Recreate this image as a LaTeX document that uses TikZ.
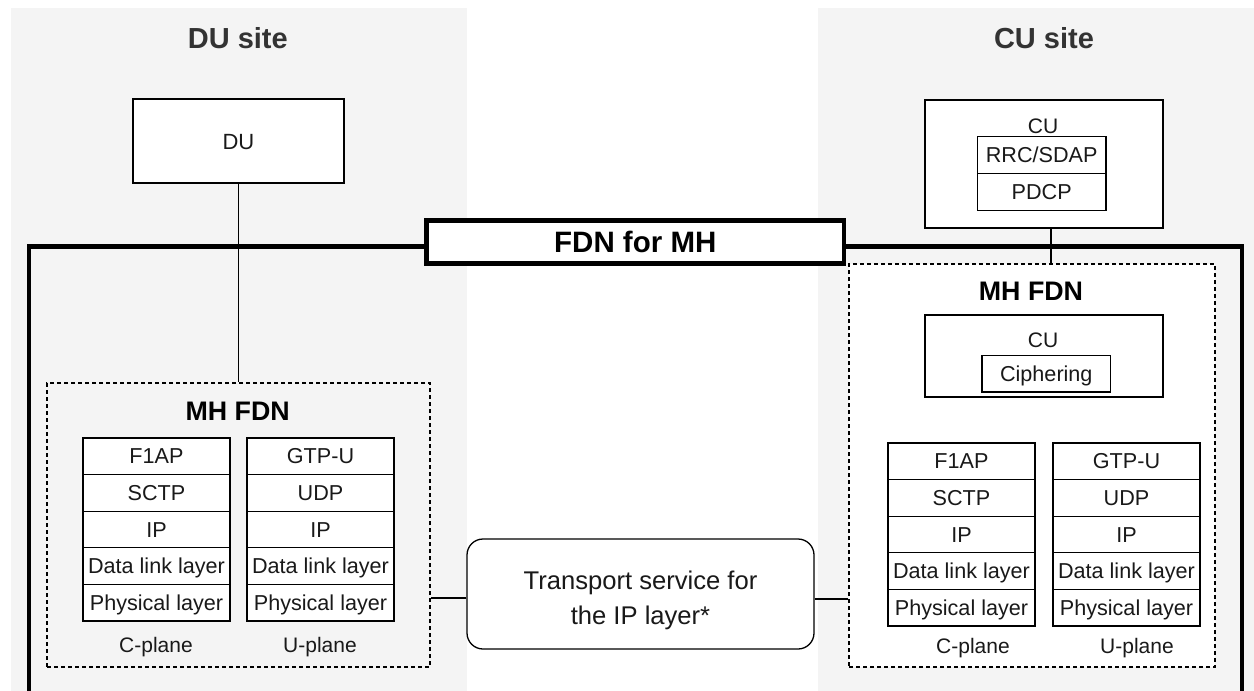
\documentclass[tikz,border=0pt]{standalone}
\usepackage{fontspec}
\setmainfont{Liberation Sans}
\usetikzlibrary{calc}
\definecolor{sitegray}{RGB}{244,244,244}
\definecolor{titlegray}{RGB}{51,51,51}
\definecolor{ink}{RGB}{25,25,25}
\newcommand{\myfs}[1]{\fontsize{#1}{#1}\selectfont}
\begin{document}
\begin{tikzpicture}[x=1pt,y=-1pt,
  box/.style={draw=black, line width=1.3pt, fill=white, inner sep=0pt},
  cell/.style={box, minimum width=147pt, minimum height=36.6pt, font=\myfs{21.6}, text height=15.2pt, text depth=0pt, text=ink},
  cucell/.style={box, minimum width=128.7pt, minimum height=37pt, font=\myfs{21.6}, text height=15.2pt, text depth=0pt, text=ink},
  lbl/.style={font=\myfs{21}, text height=15pt, text depth=0pt, inner sep=0pt, text=ink},
  mhbox/.style={draw=black, dash pattern=on 4pt off 3pt, line width=1.3pt, inner sep=0pt},
  sitetitle/.style={font=\bfseries\myfs{29}, text=titlegray, text height=20.8pt, text depth=0pt, inner sep=0pt},
  mhtitle/.style={font=\bfseries\myfs{26.8}, text=black, text height=19.2pt, text depth=0pt, inner sep=0pt},
  link/.style={draw=black, line width=1.3pt}
]
\useasboundingbox (0,0) rectangle (1254,691);
% site backgrounds
\fill[sitegray] (11,8) rectangle (467,691);
\fill[sitegray] (818,8) rectangle (1254,691);
\node[sitetitle] (dusite) at (237.8,38.3) {DU site};
\node[sitetitle] (cusite) at (1044,38.3) {CU site};

% thick FDN frame
\draw[line width=4.3pt] (29,700) -- (29,246.5) -- (1242,246.5) -- (1242,700);

% DU box
\node[box, minimum width=211pt, minimum height=84pt, font=\myfs{22}, text height=16pt, text depth=0pt, text=ink] (du) at (238.5,141) {DU};

% CU top box
\node[box, minimum width=238pt, minimum height=128pt] (cut) at (1044,164) {};
\node[lbl] (cutl) at (1043,125.5) {CU};
\node[cucell] (rrc) at (1041.7,154.7) {RRC/SDAP};
\node[cucell] (pdcp) at (1041.7,191.7) {PDCP};

% left MH FDN
\node[mhbox, minimum width=383pt, minimum height=284pt] (lmh) at (238.5,525) {};
\node[mhtitle] (lmht) at (237.7,410.8) {MH FDN};

% right MH FDN
\node[mhbox, fill=white, minimum width=366pt, minimum height=403pt] (rmh) at (1032,465.5) {};
\node[mhtitle] (rmht) at (1031,291) {MH FDN};

% connectors from DU / CU
\draw[link] (du.south) -- (lmh.north);
\draw[link] ([xshift=7pt]cut.south) -- ([xshift=7pt]cut.south |- rmh.north);

% FDN label box
\node[draw=black, line width=4.5pt, fill=white, minimum width=417.5pt, minimum height=43pt, inner sep=0pt, font=\bfseries\myfs{29.5}, text height=21pt, text depth=0pt] (fdn) at (635.3,242) {FDN for MH};

% inner CU in right MH FDN
\node[box, minimum width=238pt, minimum height=82pt] (cui) at (1044,356) {};
\node[lbl] (cuil) at (1043,340) {CU};
\node[box, minimum width=128.7pt, minimum height=36.3pt, font=\myfs{21.6}, text height=15.2pt, text depth=0pt, text=ink] (ciph) at (1046.3,373.8) {Ciphering};

% left stacks
\node[cell] (lc1) at (156.5,456.3) {F1AP};
\node[cell] (lc2) at (156.5,492.9) {SCTP};
\node[cell] (lc3) at (156.5,529.5) {IP};
\node[cell] (lc4) at (156.5,566.1) {Data link layer};
\node[cell] (lc5) at (156.5,602.7) {Physical layer};
\node[cell] (lu1) at (320.5,456.3) {GTP-U};
\node[cell] (lu2) at (320.5,492.9) {UDP};
\node[cell] (lu3) at (320.5,529.5) {IP};
\node[cell] (lu4) at (320.5,566.1) {Data link layer};
\node[cell] (lu5) at (320.5,602.7) {Physical layer};
\node[lbl] (lcl) at (156,645) {C-plane};
\node[lbl] (lul) at (320,645) {U-plane};

% right stacks
\node[cell] (rc1) at (961.5,461.3) {F1AP};
\node[cell] (rc2) at (961.5,497.9) {SCTP};
\node[cell] (rc3) at (961.5,534.5) {IP};
\node[cell] (rc4) at (961.5,571.1) {Data link layer};
\node[cell] (rc5) at (961.5,607.7) {Physical layer};
\node[cell] (ru1) at (1126.5,461.3) {GTP-U};
\node[cell] (ru2) at (1126.5,497.9) {UDP};
\node[cell] (ru3) at (1126.5,534.5) {IP};
\node[cell] (ru4) at (1126.5,571.1) {Data link layer};
\node[cell] (ru5) at (1126.5,607.7) {Physical layer};
\node[lbl] (rcl) at (973,646) {C-plane};
\node[lbl] (rul) at (1137,646) {U-plane};

% transport service
\node[box, rounded corners=16pt, minimum width=347pt, minimum height=110pt] (ts) at (640.5,594) {};
\node[inner sep=0pt, align=center, font=\fontsize{25.6}{35}\selectfont, text=ink] (tst) at (640.5,600.7) {Transport service for\\the IP layer*};

\draw[link] ([yshift=-4pt]ts.west) -- ([yshift=-4pt]ts.west -| lmh.east);
\draw[link] ([yshift=-5pt]ts.east) -- ([yshift=-5pt]ts.east -| rmh.west);
\end{tikzpicture}
\end{document}
